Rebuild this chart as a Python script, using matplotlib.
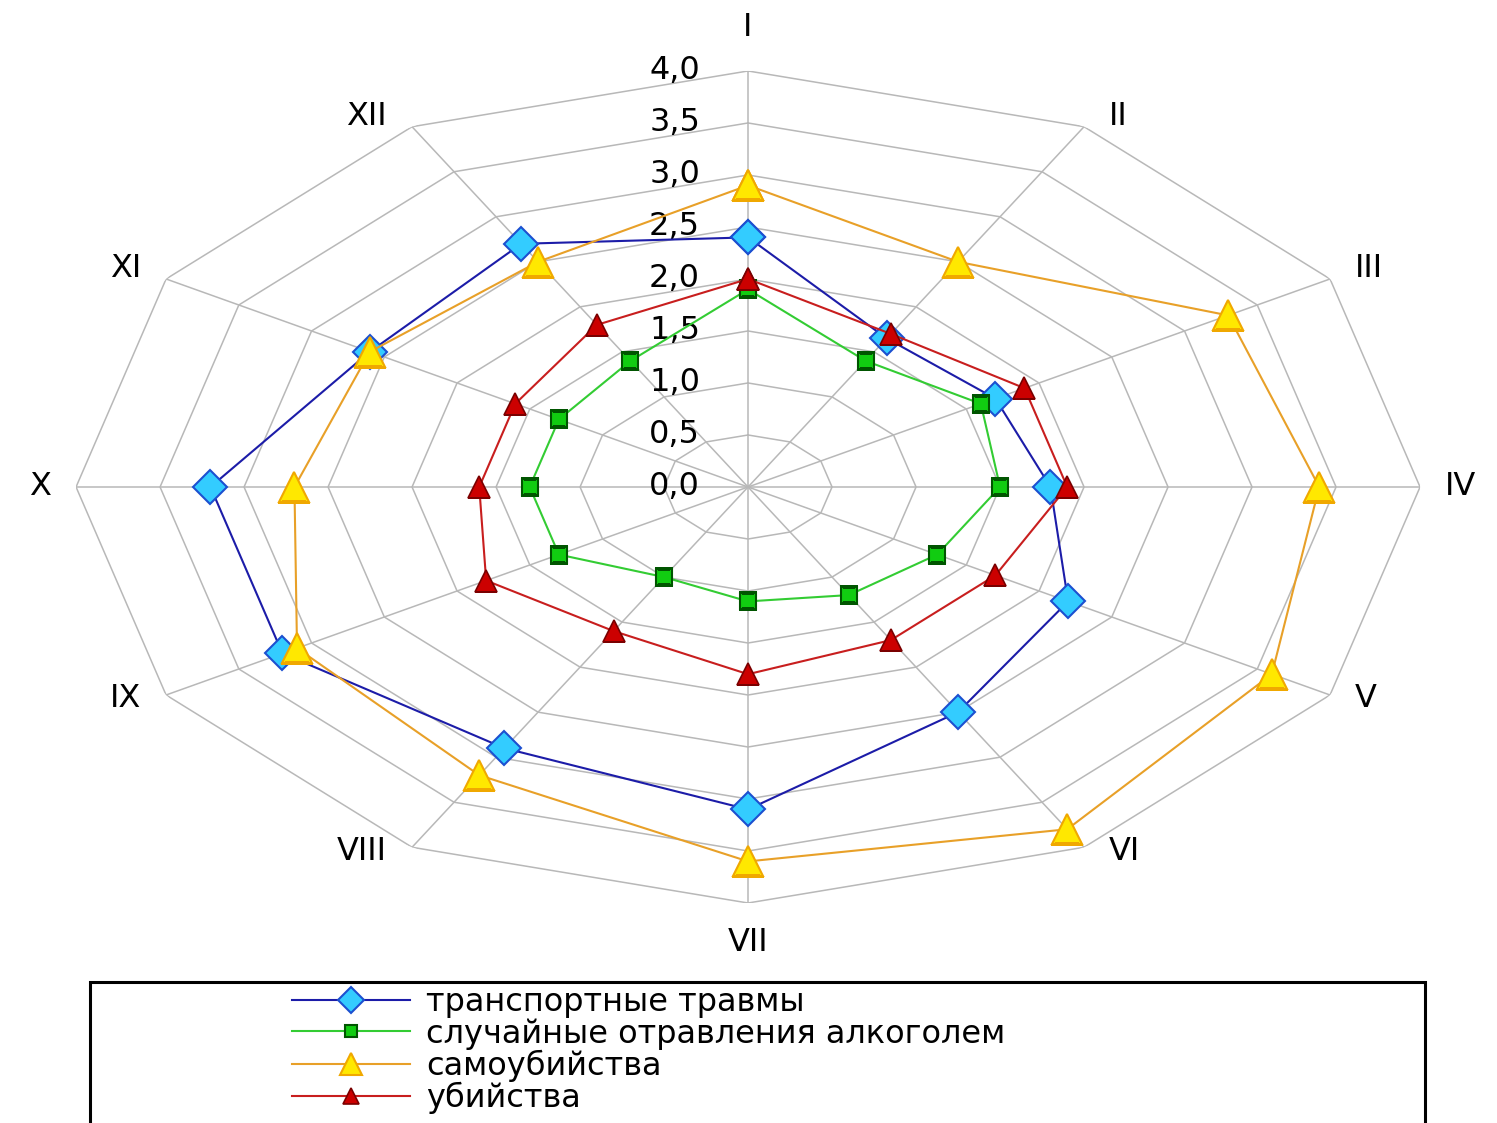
import numpy as np
import matplotlib
matplotlib.use("Agg")
import matplotlib.pyplot as plt
from matplotlib.transforms import offset_copy
from matplotlib.patches import Rectangle

# months (roman numerals) and monthly values for each cause
months = ["I", "II", "III", "IV", "V", "VI", "VII", "VIII", "IX", "X", "XI", "XII"]
transport = [2.4, 1.65, 1.7, 1.8, 2.2, 2.5, 3.1, 2.9, 3.2, 3.2, 2.6, 2.7]
alcohol = [1.9, 1.4, 1.6, 1.5, 1.3, 1.2, 1.1, 1.0, 1.3, 1.3, 1.3, 1.4]
suicide = [2.9, 2.5, 3.3, 3.4, 3.6, 3.8, 3.6, 3.2, 3.1, 2.7, 2.6, 2.5]
murder = [2.0, 1.7, 1.9, 1.9, 1.7, 1.7, 1.8, 1.6, 1.8, 1.6, 1.6, 1.8]
levels = [0.0, 0.5, 1.0, 1.5, 2.0, 2.5, 3.0, 3.5, 4.0]
level_labels = ["0,0", "0,5", "1,0", "1,5", "2,0", "2,5", "3,0", "3,5", "4,0"]
names = ["транспортные травмы", "случайные отравления алкоголем",
         "самоубийства", "убийства"]

plt.rcParams['font.family'] = ['DejaVu Sans']

fig = plt.figure(figsize=(14.97, 11.23), dpi=100)
ax = fig.add_axes([0.0508, 0.1959, 0.8978, 0.7409], projection='polar')
ax.set_theta_zero_location('N')
ax.set_theta_direction(-1)
ax.set_ylim(0, 4)
ax.set_aspect('auto')
ax.grid(False)
ax.set_xticks([])
ax.set_yticks([])
ax.spines['polar'].set_visible(False)
ax.patch.set_visible(False)

theta = np.arange(len(months)) * 2 * np.pi / len(months)
theta_c = np.append(theta, theta[0])

def closed(vals):
    return np.append(vals, vals[0])

# polygon grid
grid_col = '#b8b8b8'
for lv in levels[1:]:
    ax.plot(theta_c, [lv] * len(theta_c), color=grid_col, lw=1.1, zorder=1)
for t in theta:
    ax.plot([t, t], [0, 4], color=grid_col, lw=1.1, zorder=1)

# radial labels along the first spoke
lab_tr = offset_copy(ax.transData, fig=fig, x=-48, y=0, units='dots')
for lv, lab in zip(levels, level_labels):
    ax.text(0, lv, lab, transform=lab_tr, ha='right', va='center', fontsize=23)

# category labels, placed just outside the outer vertex
for t, m in zip(theta, months):
    s, c = np.sin(t), np.cos(t)
    if abs(s) < 0.01:
        dx, dy = 0, (28 if c > 0 else -24)
        ha, va = 'center', ('bottom' if c > 0 else 'top')
    else:
        dx = 25 * np.sign(s)
        dy = 10 if c > 0.01 else (-4 if c < -0.01 else 0)
        ha, va = ('left' if s > 0 else 'right'), 'center'
    tr = offset_copy(ax.transData, fig=fig, x=dx, y=dy, units='dots')
    ax.text(t, 4.0, m, transform=tr, ha=ha, va=va, fontsize=23)

# series
ax.plot(theta_c, closed(transport), color='#1c1ca8', lw=1.5, marker='D', ms=17,
        mfc='#33ccff', mec='#1c50d0', mew=1.5, zorder=3, label=names[0])
ax.plot(theta_c, closed(alcohol), color='#33cc33', lw=1.5, marker='s', ms=12,
        mfc='#11cc11', mec='#005500', mew=1.5, zorder=3, label=names[1])
ax.plot(theta_c, closed(suicide), color='#e8a028', lw=1.5, marker='^', ms=22,
        mfc='#ffe800', mec='#f0a800', mew=1.5, zorder=4, label=names[2])
ax.plot(theta_c, closed(murder), color='#c81e1e', lw=1.5, marker='^', ms=16,
        mfc='#cc0000', mec='#7a0000', mew=1.2, zorder=5, label=names[3])

# legend with box running off the bottom edge
fig.patches.append(Rectangle((90 / 1497, -0.05), (1425 - 90) / 1497, 0.05 + (1123 - 982) / 1123,
                             transform=fig.transFigure, fill=False, ec='black', lw=2.2))
handles, labels = ax.get_legend_handles_labels()
fig.legend(handles, labels, loc='upper left', bbox_to_anchor=(292 / 1497, 1 - 987 / 1123),
           frameon=False, fontsize=23, handlelength=3.7, handletextpad=0.5,
           labelspacing=0.0, borderpad=0, borderaxespad=0, markerscale=0.75)

fig.savefig("out.png", dpi=100, facecolor='white')
